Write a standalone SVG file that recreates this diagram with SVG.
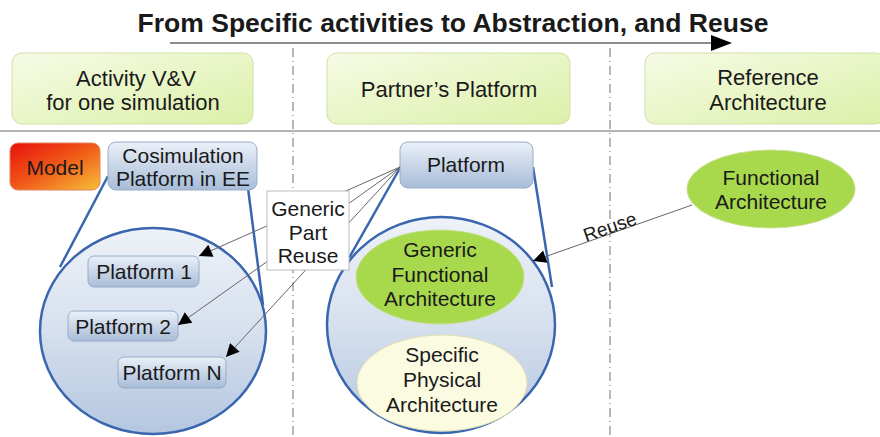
<svg xmlns="http://www.w3.org/2000/svg" width="880" height="437" viewBox="0 0 880 437">
<defs>
<linearGradient id="gHead" x1="0" y1="0" x2="1" y2="1">
<stop offset="0" stop-color="#f6fbe6"/><stop offset="1" stop-color="#dcf0a8"/>
</linearGradient>
<linearGradient id="gBlue" x1="0" y1="0" x2="0" y2="1">
<stop offset="0" stop-color="#eaf0f8"/><stop offset="1" stop-color="#a8bcd8"/>
</linearGradient>
<linearGradient id="gModel" x1="0" y1="0" x2="1" y2="1">
<stop offset="0" stop-color="#e8100c"/><stop offset="0.5" stop-color="#f05a18"/><stop offset="1" stop-color="#f8c038"/>
</linearGradient>
<linearGradient id="gCircle" x1="0" y1="0" x2="0" y2="1">
<stop offset="0" stop-color="#eef2f8"/><stop offset="0.5" stop-color="#d6e0ee"/><stop offset="1" stop-color="#b4c6e0"/>
</linearGradient>
<marker id="arr" viewBox="0 0 10 10" refX="10" refY="5" markerWidth="17" markerHeight="13" markerUnits="userSpaceOnUse" orient="auto">
<path d="M0,0 L10,5 L0,10 z" fill="#000"/>
</marker>
</defs>
<style>
text{font-family:"Liberation Sans",Arial,sans-serif;fill:#1a1a1a;text-anchor:middle}
.hd{font-size:22px}
.nt{font-size:21px}
.head{fill:url(#gHead);stroke:#cfe0a8;stroke-width:1}
.blue{fill:url(#gBlue);stroke:#98acc8;stroke-width:1}
.circ{fill:url(#gCircle);stroke:#3a66b0;stroke-width:2.5}
.tan{stroke:#3a66b0;stroke-width:2.5;fill:none}
.sep{stroke:#888;stroke-width:1.2;stroke-dasharray:9 4 1 4;fill:none}
.con{stroke:#666;stroke-width:1;fill:none}
</style>
<rect width="880" height="437" fill="#ffffff"/>

<g id="title">
<text x="453" y="32" style="font-size:26.5px;font-weight:bold">From Specific activities to Abstraction, and Reuse</text>
<line x1="170" y1="43" x2="714" y2="43" stroke="#666" stroke-width="1.5"/>
<path d="M711,35 L732,43 L711,51 z" fill="#000"/>
</g>

<g id="separators">
<line x1="0" y1="131" x2="880" y2="131" stroke="#999" stroke-width="1.5"/>
<line class="sep" x1="293" y1="48" x2="293" y2="437"/>
<line class="sep" x1="610" y1="48" x2="610" y2="437"/>
</g>

<g id="head1"><rect class="head" x="12" y="53" width="241" height="71" rx="10"/>
<text class="hd" x="136" y="86">Activity V&amp;V</text><text class="hd" x="133" y="110">for one simulation</text></g>
<g id="head2"><rect class="head" x="327" y="53" width="243" height="71" rx="10"/>
<text class="hd" x="449" y="97">Partner’s Platform</text></g>
<g id="head3"><rect class="head" x="645" y="53" width="240" height="71" rx="10"/>
<text class="hd" x="768" y="85">Reference</text><text class="hd" x="768" y="110">Architecture</text></g>

<g id="leftCircle">
<line class="tan" x1="108" y1="176" x2="60" y2="267"/>
<line class="tan" x1="248" y1="188" x2="263" y2="305"/>
<ellipse class="circ" cx="153" cy="331" rx="113" ry="103"/>
</g>
<g id="rightCircle">
<line class="tan" x1="400" y1="168" x2="349" y2="258"/>
<line class="tan" x1="533" y1="167" x2="552" y2="287"/>
<ellipse class="circ" cx="441" cy="325" rx="114" ry="108"/>
</g>

<g id="model"><rect x="10" y="143" width="90" height="47" rx="8" fill="url(#gModel)" stroke="#e08060" stroke-width="1"/>
<text class="nt" x="55" y="175">Model</text></g>
<g id="cosim"><rect class="blue" x="108" y="142" width="149" height="48" rx="8"/>
<text class="nt" x="183" y="163">Cosimulation</text><text class="nt" x="183" y="186">Platform in EE</text></g>
<g id="platform"><rect class="blue" x="400" y="142" width="133" height="46" rx="8"/>
<text class="nt" x="466" y="172">Platform</text></g>

<g id="platform1"><rect class="blue" x="88" y="256" width="111" height="31" rx="6"/>
<text class="nt" x="144" y="279">Platform 1</text></g>
<g id="platform2"><rect class="blue" x="68" y="311" width="110" height="30" rx="6"/>
<text class="nt" x="123" y="334">Platform 2</text></g>
<g id="platformN"><rect class="blue" x="118" y="357" width="108" height="31" rx="6"/>
<text class="nt" x="172" y="380">Platform N</text></g>

<g id="genFunc"><ellipse cx="440" cy="277" rx="84" ry="47" fill="#a8d84c" stroke="#c8e090" stroke-width="1"/>
<text class="nt" x="440" y="257">Generic</text><text class="nt" x="440" y="282">Functional</text><text class="nt" x="440" y="306">Architecture</text></g>
<g id="specPhys"><ellipse cx="442" cy="383" rx="85" ry="48" fill="#fbfbe2" stroke="#e0e0b0" stroke-width="1"/>
<text class="nt" x="442" y="362">Specific</text><text class="nt" x="442" y="387">Physical</text><text class="nt" x="442" y="412">Architecture</text></g>
<g id="funcArch"><ellipse cx="771" cy="189" rx="84" ry="39" fill="#a8d84c" stroke="#c8e090" stroke-width="1"/>
<text class="nt" x="771" y="185">Functional</text><text class="nt" x="771" y="209">Architecture</text></g>

<g id="connectors">
<line class="con" x1="400" y1="167" x2="199" y2="256" marker-end="url(#arr)"/>
<line class="con" x1="400" y1="167" x2="178" y2="325" marker-end="url(#arr)"/>
<line class="con" x1="400" y1="167" x2="226" y2="357" marker-end="url(#arr)"/>
<line class="con" x1="692" y1="205" x2="533" y2="261" marker-end="url(#arr)"/>
<text x="612" y="233" transform="rotate(-19 612 233)" style="font-size:19px">Reuse</text>
</g>

<g id="reuseLabel"><rect x="267" y="191" width="82" height="79" fill="#ffffff" stroke="#bbb" stroke-width="1"/>
<text class="nt" x="308" y="216">Generic</text><text class="nt" x="308" y="240">Part</text><text class="nt" x="308" y="263">Reuse</text></g>
</svg>
